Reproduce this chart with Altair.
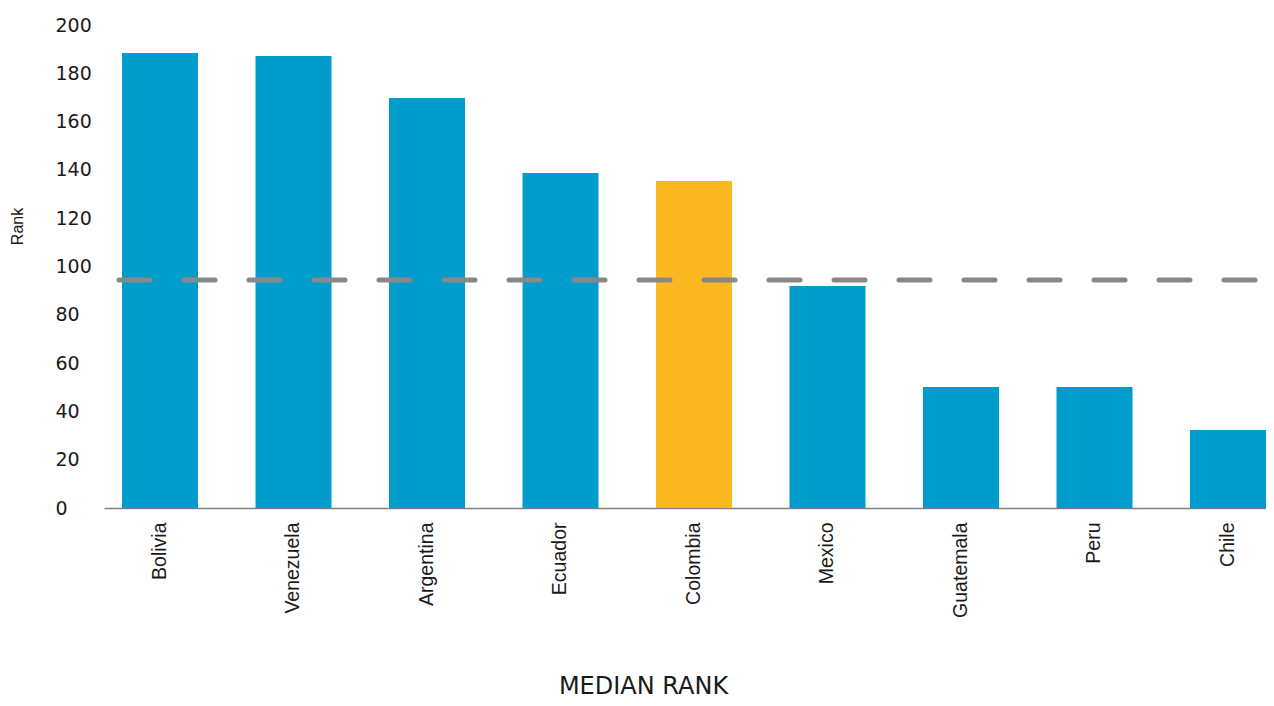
import altair as alt
import pandas as pd

countries = ["Bolivia", "Venezuela", "Argentina", "Ecuador", "Colombia",
             "Mexico", "Guatemala", "Peru", "Chile"]
ranks = [188.4, 187.2, 169.8, 138.7, 135.4, 91.9, 50.1, 50.1, 32.3]
highlight = ["no", "no", "no", "no", "yes", "no", "no", "no", "no"]
median_rank = [94.4]
y_ticks = [0, 20, 40, 60, 80, 100, 120, 140, 160, 180, 200]

df = pd.DataFrame({"country": countries, "rank": ranks, "hl": highlight})
df_line = pd.DataFrame({"median": median_rank})

bars = alt.Chart(df).mark_bar().encode(
    x=alt.X("country:N", sort=countries,
            scale=alt.Scale(paddingInner=0.4307, paddingOuter=0.0674, align=1),
            axis=alt.Axis(title="MEDIAN RANK", labelAngle=-90, labelAlign="right",
                          labelBaseline="middle", labelFont="Liberation Sans",
                          labelFontSize=19.5, labelColor="#1a1a1a", labelPadding=14,
                          ticks=False, domainColor="#808080", domainWidth=1.5,
                          titleFont="DejaVu Sans", titleFontSize=24, titleFontWeight="normal",
                          titleColor="#1a1a1a", titleX=539, titleY=178,
                          titleBaseline="middle")),
    y=alt.Y("rank:Q", scale=alt.Scale(domain=[0, 200], nice=False),
            axis=alt.Axis(title="Rank", values=y_ticks, grid=False, domain=False,
                          ticks=False, labelAlign="left", labelPadding=49,
                          labelFont="DejaVu Sans", labelFontSize=19, labelColor="#1a1a1a",
                          titleFont="Liberation Sans", titleFontSize=16,
                          titleFontWeight="normal", titleColor="#1a1a1a",
                          titleX=-79, titleY=201, titleAngle=-90,
                          titleBaseline="bottom")),
    color=alt.Color("hl:N", scale=alt.Scale(domain=["no", "yes"],
                                            range=["#009ccc", "#fbb921"]),
                    legend=None),
)

line = alt.Chart(df_line).mark_rule(
    color="#888888", strokeWidth=5, strokeDash=[31, 34], strokeCap="round"
).encode(
    y="median:Q",
    x=alt.value(15),
    x2=alt.value(1153),
)

chart = alt.layer(bars, line).properties(
    width=1162, height=483,
    autosize=alt.AutoSizeParams(type="none"),
    padding={"left": 96, "top": 17, "right": 0, "bottom": 190},
).configure_view(stroke=None)

chart.save("out.html", embed_options={"renderer": "svg", "actions": False})
